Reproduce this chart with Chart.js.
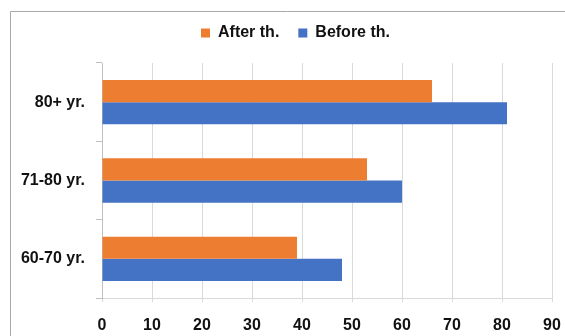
<!DOCTYPE html>
<html>
<head>
<meta charset="utf-8">
<script src="https://cdn.jsdelivr.net/npm/chart.js@4"></script>
<style>
  html, body { margin: 0; padding: 0; background: #fff; }
  #wrap { width: 565px; height: 336px; position: relative; }
</style>
</head>
<body>
<div id="wrap"><canvas id="c" width="565" height="336"></canvas></div>
<script>
// Age groups, top to bottom
const categories = ['80+ yr.', '71-80 yr.', '60-70 yr.'];
// Scores after and before therapy
const afterValues = [66, 53, 39];
const beforeValues = [81, 60, 48];
const seriesNames = ['After th.', 'Before th.'];
const xTicks = { min: 0, max: 90, step: 10 };

const FONT = "'Liberation Sans', Arial, sans-serif";

// Thin grey frame along the top and left edges
const framePlugin = {
  id: 'frame',
  beforeDraw(chart) {
    const ctx = chart.ctx;
    ctx.save();
    ctx.fillStyle = '#ffffff';
    ctx.fillRect(0, 0, chart.width, chart.height);
    ctx.strokeStyle = '#a9a9a9';
    ctx.lineWidth = 1;
    ctx.beginPath();
    ctx.moveTo(10.5, chart.height);
    ctx.lineTo(10.5, 11.5);
    ctx.lineTo(chart.width, 11.5);
    ctx.stroke();
    ctx.restore();
  }
};

// Keep the legend row high in the header strip and centred over the plot
const legendPlacer = {
  id: 'legendPlacer',
  afterLayout(chart) {
    const lg = chart.legend;
    if (!lg) return;
    const h = lg.bottom - lg.top;
    lg.top = 6;
    lg.bottom = lg.top + h;
    lg.left += 19.5;
    lg.right += 19.5;
  }
};

new Chart(document.getElementById('c'), {
  type: 'bar',
  data: {
    labels: categories,
    datasets: [
      { label: seriesNames[0], data: afterValues, backgroundColor: '#ED7D31',
        categoryPercentage: 0.565, barPercentage: 1.0 },
      { label: seriesNames[1], data: beforeValues, backgroundColor: '#4472C4',
        categoryPercentage: 0.565, barPercentage: 1.0 }
    ]
  },
  options: {
    indexAxis: 'y',
    responsive: false,
    animation: false,
    layout: { padding: { left: 0, right: 13, top: 18, bottom: 0 } },
    plugins: {
      legend: {
        position: 'top',
        labels: {
          boxWidth: 9,
          boxHeight: 9,
          padding: 19,
          color: '#111',
          font: { family: FONT, size: 16, weight: 'bold' }
        }
      },
      tooltip: { enabled: false }
    },
    scales: {
      x: {
        min: xTicks.min,
        max: xTicks.max,
        ticks: {
          stepSize: xTicks.step,
          color: '#111',
          padding: 14,
          font: { family: FONT, size: 16, weight: 'bold' }
        },
        grid: { color: '#d9d9d9', tickLength: 4 },
        border: { color: '#d9d9d9' },
        afterFit(scale) {
          scale.height = 38;
          scale.paddingLeft = 0;
          scale.paddingRight = 9;
        }
      },
      y: {
        ticks: {
          color: '#111',
          padding: 11,
          font: { family: FONT, size: 16, weight: 'bold' }
        },
        grid: { drawOnChartArea: false, color: '#bfbfbf', tickLength: 6, offset: true },
        border: { color: '#bfbfbf' },
        afterFit(scale) { scale.width = 102; }
      }
    }
  },
  plugins: [framePlugin, legendPlacer]
});
</script>
</body>
</html>
